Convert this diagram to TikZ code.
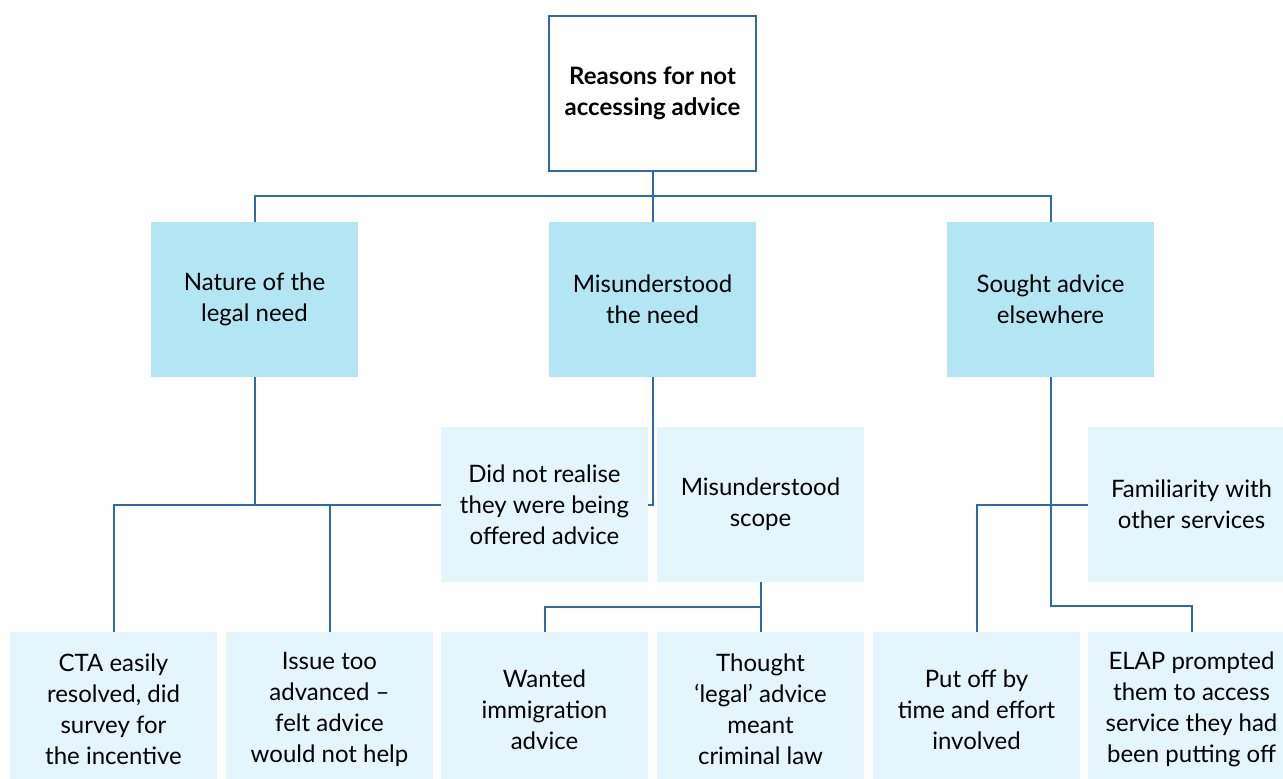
\documentclass[tikz,border=0pt]{standalone}
\usepackage{fontspec}
\setmainfont{Lato}
\usetikzlibrary{calc, positioning}
\definecolor{reasonblue}{rgb}{0.18, 0.416, 0.659}
\definecolor{reasonmid}{rgb}{0.702, 0.898, 0.961}
\definecolor{reasonpale}{rgb}{0.898, 0.961, 0.988}

\begin{document}
\begin{tikzpicture}[
        box/.style={inner sep=0pt, align=center, minimum width=103.5pt, minimum height=77.5pt, font=\fontsize{12}{15.5}\selectfont},
        rootbox/.style={box, fill=white, draw=reasonblue, line width=1pt, font=\fontsize{12}{15.5}\selectfont\bfseries},
        midbox/.style={box, fill=reasonmid},
        palebox/.style={box, fill=reasonpale},
        link/.style={draw=reasonblue, line width=1pt}
    ]
        \begin{scope}[x=0.5pt, y=-0.5pt]
        \useasboundingbox (0,0) rectangle (1283,778);
        \clip (0,0) rectangle (1283,778);

        \node (root) [rootbox] at (652.5,93.5) {Reasons for not\\accessing advice};

        \node (nature)    [midbox] at (254.5,299.5)  {Nature of the\\legal need};
        \node (misneed)   [midbox] at (652.5,299.5)  {Misunderstood\\the need};
        \node (elsewhere) [midbox] at (1050.5,299.5) {Sought advice\\elsewhere};

        \node (offered)  [palebox] at (544.5,504.5)  {Did not realise\\they were being\\offered advice};
        \node (scope)    [palebox] at (760.5,504.5)  {Misunderstood\\scope};
        \node (familiar) [palebox] at (1191.5,504.5) {Familiarity with\\other services};

        \node (cta)      [palebox] at (113.5,709.5)  {CTA easily\\resolved, did\\survey for\\the incentive};
        \node (advanced) [palebox] at (329.5,709.5)  {Issue too\\advanced --\\felt advice\\would not help};
        \node (immig)    [palebox] at (544.5,709.5)  {Wanted\\immigration\\advice};
        \node (criminal) [palebox] at (760.5,709.5)  {Thought\\`legal' advice\\meant\\criminal law};
        \node (effort)   [palebox] at (976.5,709.5)  {Put off by\\time and effort\\involved};
        \node (elap)     [palebox] at (1191.5,709.5) {ELAP prompted\\them to access\\service they had\\been putting off};

        % top level
        \draw [link] (root.south) -- (misneed.north);
        \draw [link] (root.south) -- ++(0,24) -| (nature.north);
        \draw [link] (root.south) -- ++(0,24) -| (elsewhere.north);

        % nature of the legal need
        \draw [link] (cta.north) |- (offered.west);
        \draw [link] (nature.south) -- (nature.south |- offered.west);
        \draw [link] (advanced.north) -- (advanced.north |- offered.west);

        % misunderstood the need
        \draw [link] (misneed.south) |- (offered.east);
        \draw [link] (scope.south) -- (criminal.north);
        \draw [link] (immig.north) |- ($(scope.south)!0.5!(criminal.north)$);

        % sought advice elsewhere
        \draw [link] (elsewhere.south) -- ++(0,229) -| (elap.north);
        \draw [link] (effort.north) |- (familiar.west);
        \end{scope}
    \end{tikzpicture}
\end{document}
